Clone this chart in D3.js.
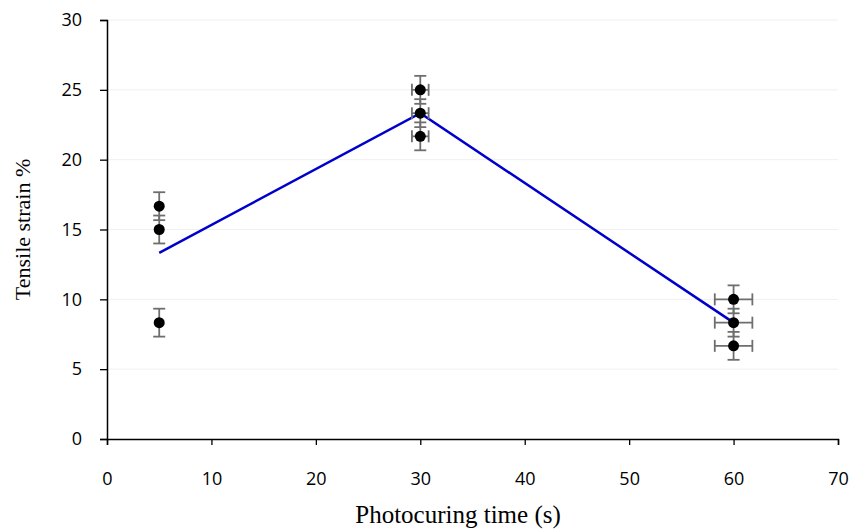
<!DOCTYPE html>
<html>
<head>
<meta charset="utf-8">
<script src="https://cdn.jsdelivr.net/npm/d3@7"></script>
<style>
  body { margin: 0; background: #fff; }
  .tick text { font-family: "Open Sans", "Liberation Sans", sans-serif; font-size: 18px; fill: #000; }
  .axis-title { font-family: "Liberation Serif", "DejaVu Serif", serif; font-size: 22px; fill: #000; }
</style>
</head>
<body>
<script>
// photocuring time (s) and tensile strain (%) for each sample
const times   = [5, 5, 5, 30, 30, 30, 60, 60, 60];
const strains = [16.67, 15, 8.33, 25, 23.33, 21.67, 10, 8.33, 6.67];
const yErr    = [1, 1, 1, 1, 1, 1, 1, 1, 1];
const xErr    = [0, 0, 0, 0.8, 0.8, 0.8, 1.8, 1.8, 1.8];

// mean line
const meanTimes   = [5, 30, 60];
const meanStrains = [13.33, 23.33, 8.33];

const xTicks = [0, 10, 20, 30, 40, 50, 60, 70];
const yTicks = [0, 5, 10, 15, 20, 25, 30];

const width = 850, height = 531;
const margin = {top: 20, right: 12, bottom: 92, left: 107};

const svg = d3.select("body").append("svg")
  .attr("width", width)
  .attr("height", height);

const x = d3.scaleLinear().domain([0, 70]).range([margin.left, width - margin.right]);
const y = d3.scaleLinear().domain([0, 30]).range([height - margin.bottom, margin.top]);

// faint gridlines
svg.append("g")
  .selectAll("line")
  .data(yTicks.filter(d => d > 0))
  .join("line")
    .attr("x1", x(0)).attr("x2", x(70))
    .attr("y1", d => y(d)).attr("y2", d => y(d))
    .attr("stroke", "#f0f0f0")
    .attr("stroke-width", 1);

// axes
const xAxis = svg.append("g")
  .attr("transform", `translate(0,${y(0)})`)
  .call(d3.axisBottom(x).tickValues(xTicks).tickSizeOuter(0).tickSize(6).tickPadding(27));

const yAxis = svg.append("g")
  .attr("transform", `translate(${x(0)},0)`)
  .call(d3.axisLeft(y).tickValues(yTicks).tickSizeOuter(0).tickSize(7).tickPadding(18));

[xAxis, yAxis].forEach(g => {
  g.select(".domain").attr("stroke", "#000").attr("stroke-width", 1.5);
  g.selectAll(".tick line").attr("stroke", "#000").attr("stroke-width", 1.3);
});

// mean line
svg.append("path")
  .datum(meanTimes.map((t, i) => [t, meanStrains[i]]))
  .attr("fill", "none")
  .attr("stroke", "#0000cc")
  .attr("stroke-width", 2.5)
  .attr("d", d3.line().x(d => x(d[0])).y(d => y(d[1])));

// error bars
const pts = times.map((t, i) => ({t, s: strains[i], ey: yErr[i], ex: xErr[i]}));
const errColor = "#6e6e6e";
const cap = 6;
const eb = svg.append("g").attr("stroke", errColor).attr("stroke-width", 1.8);

pts.forEach(d => {
  const cx = x(d.t), cy = y(d.s);
  eb.append("line").attr("x1", cx).attr("x2", cx).attr("y1", y(d.s - d.ey)).attr("y2", y(d.s + d.ey));
  eb.append("line").attr("x1", cx - cap).attr("x2", cx + cap).attr("y1", y(d.s - d.ey)).attr("y2", y(d.s - d.ey));
  eb.append("line").attr("x1", cx - cap).attr("x2", cx + cap).attr("y1", y(d.s + d.ey)).attr("y2", y(d.s + d.ey));
  if (d.ex > 0) {
    eb.append("line").attr("x1", x(d.t - d.ex)).attr("x2", x(d.t + d.ex)).attr("y1", cy).attr("y2", cy);
    eb.append("line").attr("x1", x(d.t - d.ex)).attr("x2", x(d.t - d.ex)).attr("y1", cy - cap).attr("y2", cy + cap);
    eb.append("line").attr("x1", x(d.t + d.ex)).attr("x2", x(d.t + d.ex)).attr("y1", cy - cap).attr("y2", cy + cap);
  }
});

// points
svg.append("g")
  .selectAll("circle")
  .data(pts)
  .join("circle")
    .attr("cx", d => x(d.t))
    .attr("cy", d => y(d.s))
    .attr("r", 5.5)
    .attr("fill", "#000");

// axis titles
svg.append("text")
  .attr("class", "axis-title")
  .style("font-size", "25px")
  .attr("x", 458)
  .attr("y", 523)
  .attr("text-anchor", "middle")
  .text("Photocuring time (s)");

svg.append("text")
  .attr("class", "axis-title")
  .attr("transform", `translate(30,${(y(0) + y(30)) / 2}) rotate(-90)`)
  .attr("text-anchor", "middle")
  .text("Tensile strain %");
</script>
</body>
</html>
